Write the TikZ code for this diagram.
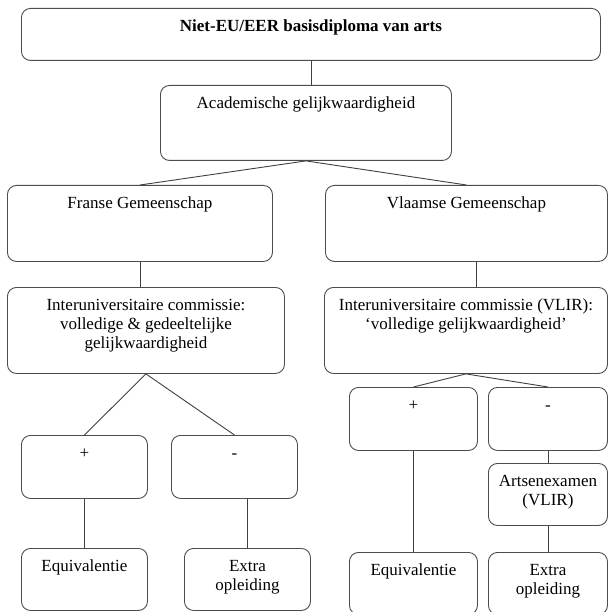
\documentclass[tikz,border=0pt]{standalone}
\usepackage{fontspec}
\setmainfont{Liberation Serif}
\usetikzlibrary{positioning}

% text placed at the top of a box of given width and height
\newcommand{\boxtxt}[3]{\parbox[c][#2][t]{#1}{\centering\rule{0pt}{23pt}#3}}

\tikzset{
    box/.style={draw=black!70, line width=0.9pt, rounded corners=9pt,
        inner sep=0pt, anchor=north west},
    conn/.style={draw=black!75, line width=0.9pt}
}

\begin{document}
\begin{tikzpicture}[x=1pt,y=-1pt]
    \fontsize{17}{19}\selectfont
    \useasboundingbox (0,0) rectangle (609,612);
    \node[box] (top) at (21,8)
        {\boxtxt{579pt}{52pt}{\textbf{Niet-EU/EER basisdiploma van arts}}};
    \node[box] (acad) at (160,85)
        {\boxtxt{291pt}{75pt}{Academische gelijkwaardigheid}};
    %%
    \node[box] (franse) at (7,185)
        {\boxtxt{265pt}{76pt}{Franse Gemeenschap}};
    \node[box] (vlaamse) at (325,185)
        {\boxtxt{282pt}{76pt}{Vlaamse Gemeenschap}};
    \node[box] (interL) at (7,287)
        {\boxtxt{277pt}{86pt}{Interuniversitaire commissie:\\
        volledige \& gedeeltelijke\\ gelijkwaardigheid}};
    \node[box] (interR) at (324,287)
        {\boxtxt{283pt}{86pt}{Interuniversitaire commissie (VLIR):\\
        `volledige gelijkwaardigheid'}};
    %%
    \node[box] (plusL) at (21,435) {\boxtxt{126pt}{63pt}{+}};
    \node[box] (minL) at (171,435) {\boxtxt{126pt}{63pt}{-}};
    \node[box] (equL) at (21,548) {\boxtxt{126pt}{62pt}{Equivalentie}};
    \node[box] (extraL) at (184,548) {\boxtxt{126pt}{62pt}{Extra\\ opleiding}};
    %%
    \node[box] (plusR) at (349,387) {\boxtxt{128pt}{63pt}{+}};
    \node[box] (minR) at (488,387) {\boxtxt{119pt}{63pt}{-}};
    \node[box] (arts) at (488,463) {\boxtxt{119pt}{62pt}{Artsenexamen\\ (VLIR)}};
    \node[box] (equR) at (349,552) {\boxtxt{128pt}{62pt}{Equivalentie}};
    \node[box] (extraR) at (488,552) {\boxtxt{119pt}{62pt}{Extra\\ opleiding}};
    %%
    \draw[conn] (top.south) -- (top.south |- acad.north);
    \draw[conn] (franse.north) -- (acad.south) -- (vlaamse.north);
    \draw[conn] (franse.south) -- (franse.south |- interL.north);
    \draw[conn] ([xshift=10pt]vlaamse.south) -- ([xshift=10pt]vlaamse.south |- interR.north);
    \draw[conn] (plusL.north) -- (interL.south) -- (minL.north);
    \draw[conn] (plusL.south) -- (equL.north);
    \draw[conn] (extraL.north |- minL.south) -- (extraL.north);
    \draw[conn] (plusR.north) -- (interR.south) -- (minR.north);
    \draw[conn] (plusR.south) -- (equR.north);
    \draw[conn] (minR.south) -- (arts.north);
    \draw[conn] (arts.south) -- (extraR.north);
\end{tikzpicture}
\end{document}
